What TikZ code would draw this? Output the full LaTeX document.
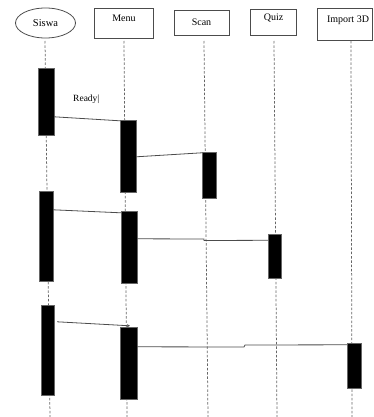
\documentclass[tikz,border=0pt]{standalone}
\usepackage{fontspec}
\setmainfont{Liberation Serif}
\usetikzlibrary{calc,shapes.geometric,arrows.meta}
\begin{document}
\begin{tikzpicture}[x=1pt,y=-1pt,
  head/.style={draw=black!70,line width=0.8pt,inner sep=0pt,font=\fontsize{10}{12}\selectfont},
  life/.style={draw=black!60,line width=0.75pt,dash pattern=on 2.5pt off 1.8pt},
  bar/.style={fill=black,draw=black!60,line width=0.4pt,inner sep=0pt,minimum width=14pt},
  msg/.style={draw=black!70,line width=0.8pt}]
\useasboundingbox (0,0) rectangle (373,417);
% headers
\node[head,ellipse,minimum width=60pt,minimum height=30pt,font=\fontsize{10.5}{12}\selectfont] (hs) at (45.5,23) {Siswa};
\node[head,rectangle,minimum width=59pt,minimum height=30pt] (hm) at (124,23) {};
\node[font=\fontsize{10}{12}\selectfont] (tm) at (124,18) {Menu};
\node[head,rectangle,minimum width=55pt,minimum height=25pt] (hc) at (201.5,22.5) {Scan};
\node[head,rectangle,minimum width=46pt,minimum height=26pt] (hq) at (273.5,22) {};
\node[font=\fontsize{10}{12}\selectfont] (tq) at (273.5,18.5) {Quiz};
\node[head,rectangle,minimum width=55pt,minimum height=32pt] (hi) at (345,24) {};
\node[font=\fontsize{10}{12}\selectfont] (ti) at (348,20) {Import 3D};
% lifelines
\coordinate (ls1) at (45,41);   \coordinate (ls2) at (50,417);
\coordinate (lm1) at (124,41);  \coordinate (lm2) at (127,417);
\coordinate (lc1) at (204,41);  \coordinate (lc2) at (208,417);
\coordinate (lq1) at (274,41);  \coordinate (lq2) at (277,417);
\coordinate (li1) at (351,41);  \coordinate (li2) at (352,417);
\draw[life] (ls1) -- (ls2);
\draw[life] (lm1) -- (lm2);
\draw[life] (lc1) -- (lc2);
\draw[life] (lq1) -- (lq2);
\draw[life] (li1) -- (li2);
% activation bars
\node[bar,minimum width=16pt,minimum height=67pt] (s1) at (46,101.5) {};
\node[bar,minimum width=16pt,minimum height=72pt] (m1) at (128,156) {};
\node[bar,minimum width=14pt,minimum height=46pt] (sc) at (209,175) {};
\node[bar,minimum width=14pt,minimum height=90pt] (s2) at (46,236) {};
\node[bar,minimum width=16pt,minimum height=72pt] (m2) at (129,247) {};
\node[bar,minimum width=13pt,minimum height=44pt] (qz) at (274.5,256) {};
\node[bar,minimum width=13pt,minimum height=90pt] (s3) at (47.5,350) {};
\node[bar,minimum width=17pt,minimum height=72pt] (m3) at (128.5,363) {};
\node[bar,minimum width=14pt,minimum height=45pt] (im) at (354,365.5) {};
% messages
\draw[msg] ($(s1.north east)+(0,49)$) -- ($(m1.north west)+(0,1)$);
\draw[msg] ($(m1.north east)+(0,37)$) -- ($(sc.north west)+(0,1)$);
\draw[msg] ($(s2.north east)+(0,19)$) -- ($(m2.north west)+(0,2)$);
\draw[msg] ($(m2.north east)+(0,28)$) -- (204,239) -- (204,240.5) -- ($(qz.north west)+(0,6.5)$);
\draw[msg,-{Stealth[length=3pt,width=3pt]}] ($(s3.north east)+(3,17)$) -- ($(m3.north)+(1.5,-1)$);
\draw[msg] ($(m3.north east)+(0,20)$) -- (244,347) -- (245,345) -- ($(im.north west)+(0,2)$);
% label
\node[font=\fontsize{9.5}{11}\selectfont,anchor=west,inner sep=0pt] (rd) at (73,99) {Ready|};
\end{tikzpicture}
\end{document}
